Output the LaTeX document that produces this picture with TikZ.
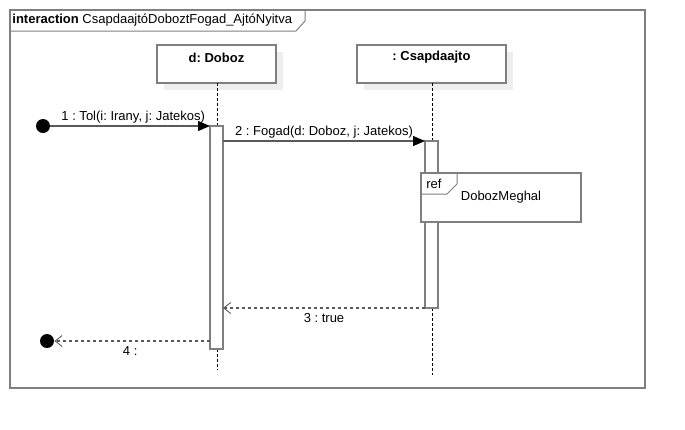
\documentclass[tikz,border=0pt]{standalone}
\usepackage{fontspec}
\setmainfont{Liberation Sans}
\frenchspacing
\usetikzlibrary{arrows.meta,positioning}
\definecolor{umlgray}{HTML}{7F7F7F}
\definecolor{shadowgray}{HTML}{EEEEEE}

\begin{document}
\begin{tikzpicture}[x=1pt,y=-1pt,>=Triangle,thick,font=\fontsize{13}{15}\selectfont,
    frame/.style={draw=umlgray,line width=1.4pt},
    obj node/.style={draw=umlgray,line width=1.2pt,fill=white,minimum width=119pt,minimum height=38pt,inner sep=0pt},
    act bar/.style={draw=umlgray,line width=1.4pt,fill=white},
    life/.style={densely dashed,line width=0.7pt,black},
    call/.style={-{Triangle[length=12pt,width=10pt,color=black]},line width=1.1pt,draw=umlgray!70!black},
    reply/.style={-{Straight Barb[length=7pt,width=11pt,line width=0.9pt]},dashed,line width=1.1pt,draw=umlgray!70!black},
    gate/.style={circle,fill=black,minimum size=14pt,inner sep=0pt}]
    \useasboundingbox (0,0) rectangle (685,429);

    % frame
    \draw[frame] (10,10) rectangle (645,388);
    \draw[frame,line width=1pt] (10,31) -- (296,31) -- (305,21) -- (305,10);
    \node[anchor=west,inner sep=0pt] (title) at (12,20) {\textbf{interaction} Csapdaajt\'oDoboztFogad\_Ajt\'oNyitva};

    % objects
    \fill[shadowgray] (164,52) rectangle (283,90);
    \node[obj node] (doboz) at (216.5,64) {};
    \node[font=\fontsize{13}{15}\selectfont\bfseries] at (216.5,57.5) {d: Doboz};
    \fill[shadowgray] (364,52) rectangle (513,90);
    \node[obj node,minimum width=149pt] (csapda) at (431.5,64) {};
    \node[font=\fontsize{13}{15}\selectfont\bfseries] at (431.5,57.5) {: Csapdaajto};

    % lifelines
    \coordinate (dend) at (217,370);
    \coordinate (cend) at (432,375);
    \draw[life] (217,83) -- (217,126);
    \draw[life] (217,349) -- (dend);
    \draw[life] (432,83) -- (432,141);
    \draw[life] (432,308) -- (cend);

    % activations
    \draw[act bar] (210,126) rectangle (223,349);
    \draw[act bar] (425,141) rectangle (438,308);

    % ref fragment
    \draw[frame,line width=1.2pt,fill=white] (421,173) rectangle (581,222);
    \draw[frame,line width=1pt] (421,194) -- (447,194) -- (457,184) -- (457,173);
    \node[anchor=west,inner sep=0pt] (ref) at (426,183.5) {ref};
    \node (meghal) at (501,197.5) {DobozMeghal};

    % gates
    \node[gate] (start) at (43,126) {};
    \node[gate] (stop) at (47,341) {};

    % messages
    \coordinate (m1) at (210,126);
    \coordinate (m2a) at (223,141);
    \coordinate (m2b) at (425,141);
    \coordinate (m3a) at (425,308);
    \coordinate (m3b) at (223,308);
    \coordinate (m4) at (210,341);
    \draw[call] (start) -- node[above,inner sep=2pt,xshift=3pt] {1 : Tol(i: Irany, j: Jatekos)} (m1);
    \draw[call] (m2a) -- node[above,inner sep=2pt,xshift=0pt] {2 : Fogad(d: Doboz, j: Jatekos)} (m2b);
    \draw[reply] (m3a) -- node[below,inner sep=4.5pt] {3 : true} (m3b);
    \draw[reply] (m4) -- node[below,inner sep=4.5pt,xshift=-2pt] {4 :} (stop);
\end{tikzpicture}
\end{document}
